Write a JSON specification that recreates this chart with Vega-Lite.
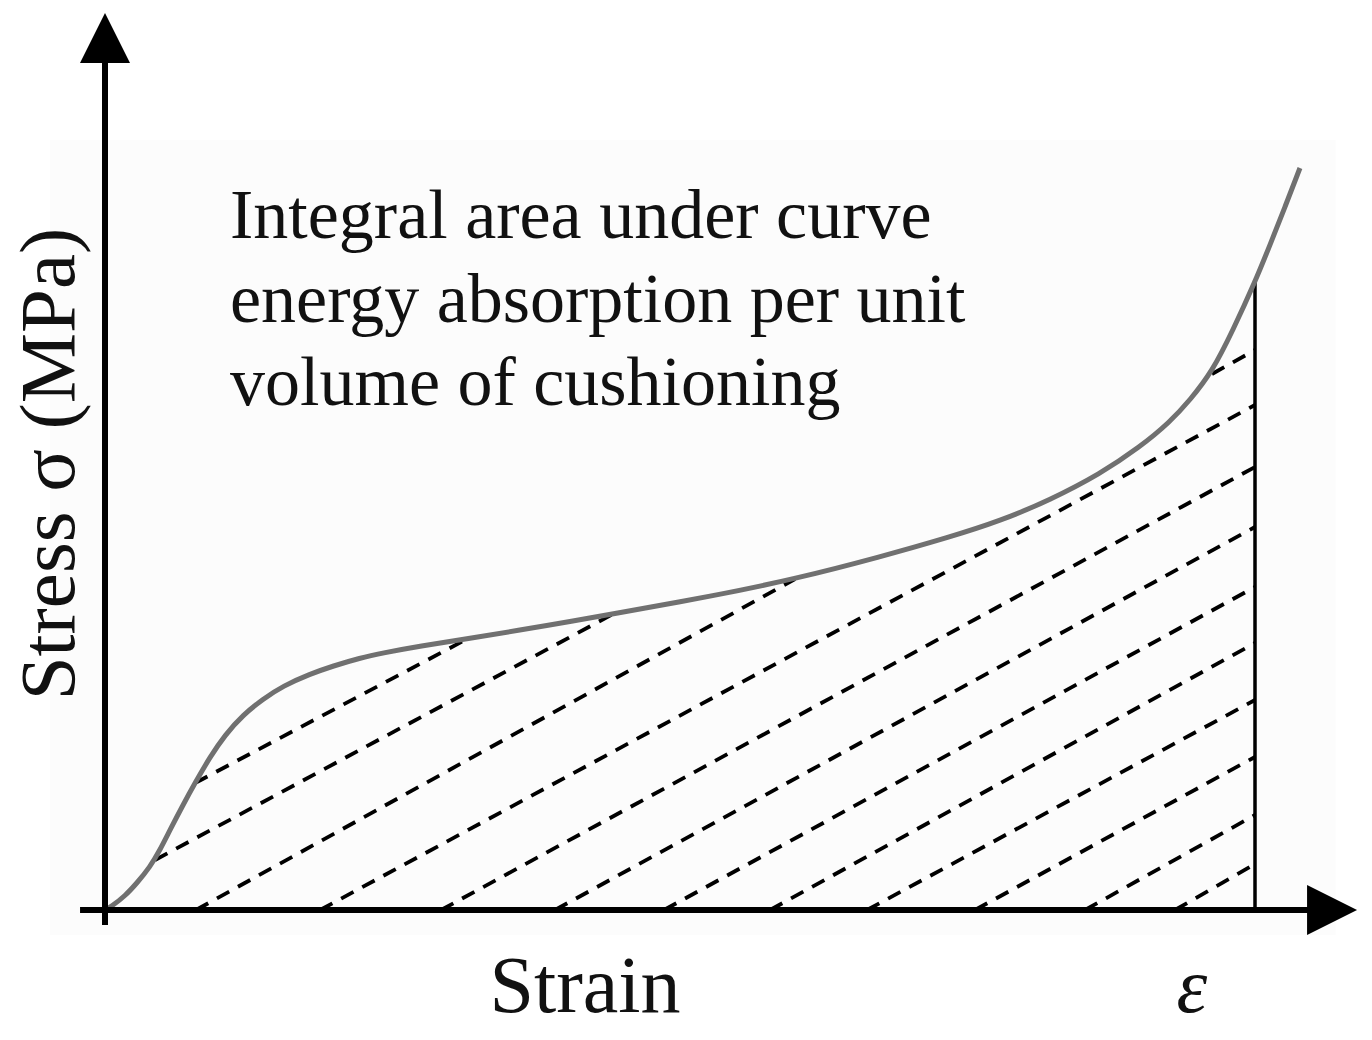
{
  "$schema": "https://vega.github.io/schema/vega-lite/v6.json",
  "width": 1150,
  "height": 800,
  "autosize": {"type": "none"},
  "padding": {"left": 105, "right": 117, "top": 110, "bottom": 130},
  "background": "white",
  "config": {"view": {"stroke": null}},
  "datasets": {
    "frame": [{"x0": -0.048, "x1": 1.07, "y0": -0.25, "y1": 7.7}],
    "curve": [
      {"strain": 0, "stress": 0},
      {"strain": 0.0061, "stress": 0.04},
      {"strain": 0.0174, "stress": 0.14},
      {"strain": 0.0278, "stress": 0.27},
      {"strain": 0.0391, "stress": 0.43},
      {"strain": 0.0478, "stress": 0.6},
      {"strain": 0.0565, "stress": 0.8},
      {"strain": 0.0678, "stress": 1.05},
      {"strain": 0.0783, "stress": 1.27},
      {"strain": 0.0913, "stress": 1.53},
      {"strain": 0.1043, "stress": 1.75},
      {"strain": 0.12, "stress": 1.95},
      {"strain": 0.1374, "stress": 2.11},
      {"strain": 0.1548, "stress": 2.24},
      {"strain": 0.1783, "stress": 2.36},
      {"strain": 0.1983, "stress": 2.44},
      {"strain": 0.2217, "stress": 2.52},
      {"strain": 0.2417, "stress": 2.57},
      {"strain": 0.2739, "stress": 2.64},
      {"strain": 0.3148, "stress": 2.71},
      {"strain": 0.387, "stress": 2.85},
      {"strain": 0.4417, "stress": 2.96},
      {"strain": 0.5287, "stress": 3.14},
      {"strain": 0.6, "stress": 3.31},
      {"strain": 0.6739, "stress": 3.53},
      {"strain": 0.7348, "stress": 3.73},
      {"strain": 0.7783, "stress": 3.89},
      {"strain": 0.8217, "stress": 4.1},
      {"strain": 0.8652, "stress": 4.36},
      {"strain": 0.9, "stress": 4.63},
      {"strain": 0.9261, "stress": 4.88},
      {"strain": 0.9435, "stress": 5.1},
      {"strain": 0.9626, "stress": 5.38},
      {"strain": 0.9809, "stress": 5.8},
      {"strain": 1.0, "stress": 6.28},
      {"strain": 1.013, "stress": 6.65},
      {"strain": 1.0261, "stress": 7.03},
      {"strain": 1.0391, "stress": 7.42}
    ],
    "hatch": [
      {"s0": 0.0435, "t0": 0.5, "s1": 0.4417, "t1": 2.96},
      {"s0": 0.0783, "t0": 1.27, "s1": 0.3148, "t1": 2.71},
      {"s0": 0.0791, "t0": 0, "s1": 0.6, "t1": 3.31},
      {"s0": 0.9626, "t0": 5.36, "s1": 1.0, "t1": 5.6},
      {"s0": 0.187, "t0": 0, "s1": 1.0, "t1": 5.05},
      {"s0": 0.2922, "t0": 0, "s1": 1.0, "t1": 4.43},
      {"s0": 0.3913, "t0": 0, "s1": 1.0, "t1": 3.83},
      {"s0": 0.4861, "t0": 0, "s1": 1.0, "t1": 3.23},
      {"s0": 0.5783, "t0": 0, "s1": 1.0, "t1": 2.67},
      {"s0": 0.6626, "t0": 0, "s1": 1.0, "t1": 2.1},
      {"s0": 0.7565, "t0": 0, "s1": 1.0, "t1": 1.53},
      {"s0": 0.8522, "t0": 0, "s1": 1.0, "t1": 0.95},
      {"s0": 0.9304, "t0": 0, "s1": 1.0, "t1": 0.46}
    ],
    "limit": [{"s0": 1.0, "t0": 0, "s1": 1.0, "t1": 6.28}],
    "axes": [
      {"s0": -0.0217, "t0": 0, "s1": 1.047, "t1": 0},
      {"s0": 0, "t0": -0.15, "s1": 0, "t1": 8.47}
    ],
    "arrowUp": [{"strain": 0, "stress": 8.72}],
    "arrowRight": [{"strain": 1.067, "stress": 0}],
    "note": [
      {"strain": 0.1087, "stress": 6.72, "label": "Integral area under curve"},
      {"strain": 0.1087, "stress": 5.88, "label": "energy absorption per unit"},
      {"strain": 0.1087, "stress": 5.05, "label": "volume of cushioning"}
    ],
    "ylab": [{"strain": -0.027, "stress": 4.46, "label": "Stress σ (MPa)"}],
    "xlab": [{"strain": 0.4174, "stress": -1.02, "label": "Strain"}],
    "eps": [{"strain": 0.945, "stress": -1.02, "label": "ε"}]
  },
  "layer": [
    {
      "data": {"name": "frame"},
      "mark": {"type": "rect", "fill": "#fcfcfc"},
      "encoding": {
        "x": {"field": "x0", "type": "quantitative", "scale": {"domain": [0, 1], "nice": false, "zero": false}, "axis": null},
        "x2": {"field": "x1"},
        "y": {"field": "y0", "type": "quantitative", "scale": {"domain": [0, 8], "nice": false, "zero": false}, "axis": null},
        "y2": {"field": "y1"}
      }
    },
    {
      "data": {"name": "hatch"},
      "mark": {"type": "rule", "color": "black", "strokeWidth": 3.8, "strokeDash": [14, 10]},
      "encoding": {
        "x": {"field": "s0", "type": "quantitative"},
        "x2": {"field": "s1"},
        "y": {"field": "t0", "type": "quantitative"},
        "y2": {"field": "t1"}
      }
    },
    {
      "data": {"name": "limit"},
      "mark": {"type": "rule", "color": "black", "strokeWidth": 3.5},
      "encoding": {
        "x": {"field": "s0", "type": "quantitative"},
        "x2": {"field": "s1"},
        "y": {"field": "t0", "type": "quantitative"},
        "y2": {"field": "t1"}
      }
    },
    {
      "data": {"name": "curve"},
      "mark": {"type": "line", "color": "#707070", "strokeWidth": 5, "interpolate": "basis"},
      "encoding": {
        "x": {"field": "strain", "type": "quantitative"},
        "y": {"field": "stress", "type": "quantitative"}
      }
    },
    {
      "data": {"name": "axes"},
      "mark": {"type": "rule", "color": "black", "strokeWidth": 6},
      "encoding": {
        "x": {"field": "s0", "type": "quantitative"},
        "x2": {"field": "s1"},
        "y": {"field": "t0", "type": "quantitative"},
        "y2": {"field": "t1"}
      }
    },
    {
      "data": {"name": "arrowUp"},
      "mark": {"type": "point", "shape": "M0,-1L1,1L-1,1Z", "size": 2500, "filled": true, "color": "black", "opacity": 1},
      "encoding": {
        "x": {"field": "strain", "type": "quantitative"},
        "y": {"field": "stress", "type": "quantitative"}
      }
    },
    {
      "data": {"name": "arrowRight"},
      "mark": {"type": "point", "shape": "M1,0L-1,-1L-1,1Z", "size": 2500, "filled": true, "color": "black", "opacity": 1},
      "encoding": {
        "x": {"field": "strain", "type": "quantitative"},
        "y": {"field": "stress", "type": "quantitative"}
      }
    },
    {
      "data": {"name": "note"},
      "mark": {"type": "text", "font": "Liberation Serif", "fontSize": 70, "align": "left", "baseline": "alphabetic", "color": "#111"},
      "encoding": {
        "x": {"field": "strain", "type": "quantitative"},
        "y": {"field": "stress", "type": "quantitative"},
        "text": {"field": "label"}
      }
    },
    {
      "data": {"name": "ylab"},
      "mark": {"type": "text", "font": "Liberation Serif", "fontSize": 79, "align": "center", "baseline": "alphabetic", "angle": 270, "color": "#111"},
      "encoding": {
        "x": {"field": "strain", "type": "quantitative"},
        "y": {"field": "stress", "type": "quantitative"},
        "text": {"field": "label"}
      }
    },
    {
      "data": {"name": "xlab"},
      "mark": {"type": "text", "font": "Liberation Serif", "fontSize": 80, "align": "center", "baseline": "alphabetic", "color": "#111"},
      "encoding": {
        "x": {"field": "strain", "type": "quantitative"},
        "y": {"field": "stress", "type": "quantitative"},
        "text": {"field": "label"}
      }
    },
    {
      "data": {"name": "eps"},
      "mark": {"type": "text", "font": "Liberation Serif", "fontSize": 78, "fontStyle": "italic", "align": "center", "baseline": "alphabetic", "color": "#111"},
      "encoding": {
        "x": {"field": "strain", "type": "quantitative"},
        "y": {"field": "stress", "type": "quantitative"},
        "text": {"field": "label"}
      }
    }
  ]
}
